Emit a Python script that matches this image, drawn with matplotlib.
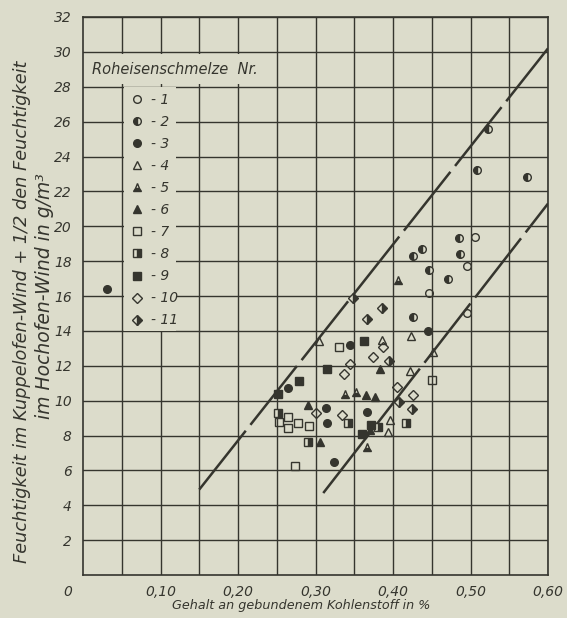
import matplotlib
matplotlib.use("Agg")
import matplotlib.pyplot as plt
from matplotlib.patches import Rectangle

plt.rcParams['font.family'] = ['DejaVu Sans']
plt.rcParams['font.style'] = 'italic'

bg = '#dcdccb'
ink = '#35352e'

# Roheisenschmelze Nr. 1 .. 11 : (gebundener C in %, Feuchtigkeit g/m3)
s1_x = [0.506, 0.496, 0.446, 0.496]
s1_y = [19.4, 17.7, 16.2, 15.0]
s2_x = [0.522, 0.508, 0.573, 0.485, 0.437, 0.426, 0.487, 0.446, 0.471, 0.426]
s2_y = [25.6, 23.2, 22.8, 19.3, 18.7, 18.3, 18.4, 17.5, 17.0, 14.8]
s3_x = [0.031, 0.445, 0.345, 0.264, 0.314, 0.315, 0.367, 0.324]
s3_y = [16.4, 14.0, 13.2, 10.7, 9.6, 8.7, 9.35, 6.5]
s4_x = [0.305, 0.386, 0.423, 0.451, 0.422, 0.396, 0.394]
s4_y = [13.4, 13.5, 13.7, 12.8, 11.7, 8.9, 8.2]
s5_x = [0.406, 0.338, 0.352, 0.367]
s5_y = [16.9, 10.4, 10.5, 7.35]
s6_x = [0.383, 0.377, 0.290, 0.306, 0.365, 0.370]
s6_y = [11.8, 10.2, 9.75, 7.6, 10.3, 8.3]
s7_x = [0.330, 0.253, 0.265, 0.277, 0.265, 0.292, 0.273, 0.450]
s7_y = [13.1, 8.8, 9.05, 8.7, 8.45, 8.55, 6.25, 11.2]
s8_x = [0.251, 0.290, 0.342, 0.417, 0.380]
s8_y = [9.3, 7.6, 8.7, 8.7, 8.5]
s9_x = [0.363, 0.315, 0.279, 0.251, 0.372, 0.360]
s9_y = [13.4, 11.8, 11.1, 10.4, 8.6, 8.1]
s10_x = [0.387, 0.374, 0.344, 0.337, 0.426, 0.405, 0.334, 0.300]
s10_y = [13.1, 12.5, 12.1, 11.5, 10.3, 10.8, 9.2, 9.3]
s11_x = [0.349, 0.386, 0.367, 0.395, 0.424, 0.408]
s11_y = [15.9, 15.3, 14.7, 12.3, 9.5, 9.9]

# Grenzlinien
upper_x = [0.15, 0.60]
upper_y = [4.9, 30.2]
lower_x = [0.31, 0.60]
lower_y = [4.7, 21.3]

series = [
    (s1_x, s1_y, 'o', 'none'),
    (s2_x, s2_y, 'o', 'left'),
    (s3_x, s3_y, 'o', 'full'),
    (s4_x, s4_y, '^', 'none'),
    (s5_x, s5_y, '^', 'bottom'),
    (s6_x, s6_y, '^', 'full'),
    (s7_x, s7_y, 's', 'none'),
    (s8_x, s8_y, 's', 'right'),
    (s9_x, s9_y, 's', 'full'),
    (s10_x, s10_y, 'D', 'none'),
    (s11_x, s11_y, 'D', 'right'),
]

fig = plt.figure(figsize=(5.67, 6.18), dpi=100, facecolor=bg)
ax = fig.add_axes([83 / 567, 43 / 618, 465 / 567, 558 / 618], facecolor=bg)

ax.set_xlim(0, 0.60)
ax.set_ylim(0, 32)
ax.set_axisbelow(True)

ax.set_xticks([0.1, 0.2, 0.3, 0.4, 0.5, 0.6])
ax.set_xticklabels(['0,10', '0,20', '0,30', '0,40', '0,50', '0,60'])
ax.set_xticks([0.05 * i for i in range(1, 12, 2)], minor=True)
ax.set_yticks(range(2, 33, 2))
ax.tick_params(axis='both', which='both', length=0, labelsize=10, colors=ink)
ax.tick_params(axis='x', pad=7)
ax.tick_params(axis='y', pad=8)
ax.grid(True, which='both', color=ink, linewidth=1.0)
for sp in ax.spines.values():
    sp.set_color(ink)
    sp.set_linewidth(1.2)

# blanked areas for the legend
ax.add_patch(Rectangle((0.0025, 28.15), 0.232, 1.7, facecolor=bg, edgecolor='none', zorder=1))
ax.add_patch(Rectangle((0.0525, 14.0), 0.068, 14.0, facecolor=bg, edgecolor='none', zorder=1))
ax.text(0.012, 29.0, 'Roheisenschmelze  Nr.', fontsize=10.5, color=ink, va='center', ha='left', zorder=3)

ax.plot(upper_x, upper_y, color=ink, linewidth=1.8, linestyle=(0, (30, 3)), zorder=2)
ax.plot(lower_x, lower_y, color=ink, linewidth=1.8, linestyle=(0, (30, 3)), zorder=2)

for i, (xs, ys, m, fs) in enumerate(series):
    ax.plot(xs, ys, linestyle='none', marker=m, fillstyle=fs,
            markersize=5.5 if m != 'D' else 5.0, markeredgewidth=1.0,
            markeredgecolor=ink, markerfacecolor=ink, markerfacecoloralt=bg,
            label=f'- {i + 1}', zorder=3)

leg = ax.legend(loc='upper left', bbox_to_anchor=((123 - 83) / 465, (575 - 86) / 558),
                frameon=False, fontsize=10, labelspacing=0.58, handlelength=1.0,
                handletextpad=0.5, borderpad=0.5, borderaxespad=0)
for t in leg.get_texts():
    t.set_color(ink)

ax.text(-0.02, -0.6, '0', fontsize=10, color=ink, ha='center', va='top')

fig.text(22 / 567, 1 - 312 / 618, 'Feuchtigkeit im Kuppelofen-Wind + 1/2 den Feuchtigkeit',
         rotation=90, fontsize=12.8, color=ink, ha='center', va='center')
fig.text(45 / 567, 1 - 296 / 618, 'im Hochofen-Wind in g/m³',
         rotation=90, fontsize=13.5, color=ink, ha='center', va='center')
fig.text(301 / 567, 1 - 606 / 618, 'Gehalt an gebundenem Kohlenstoff in %',
         fontsize=9.2, color=ink, ha='center', va='center')

fig.savefig('out.png', dpi=100, facecolor=bg)
